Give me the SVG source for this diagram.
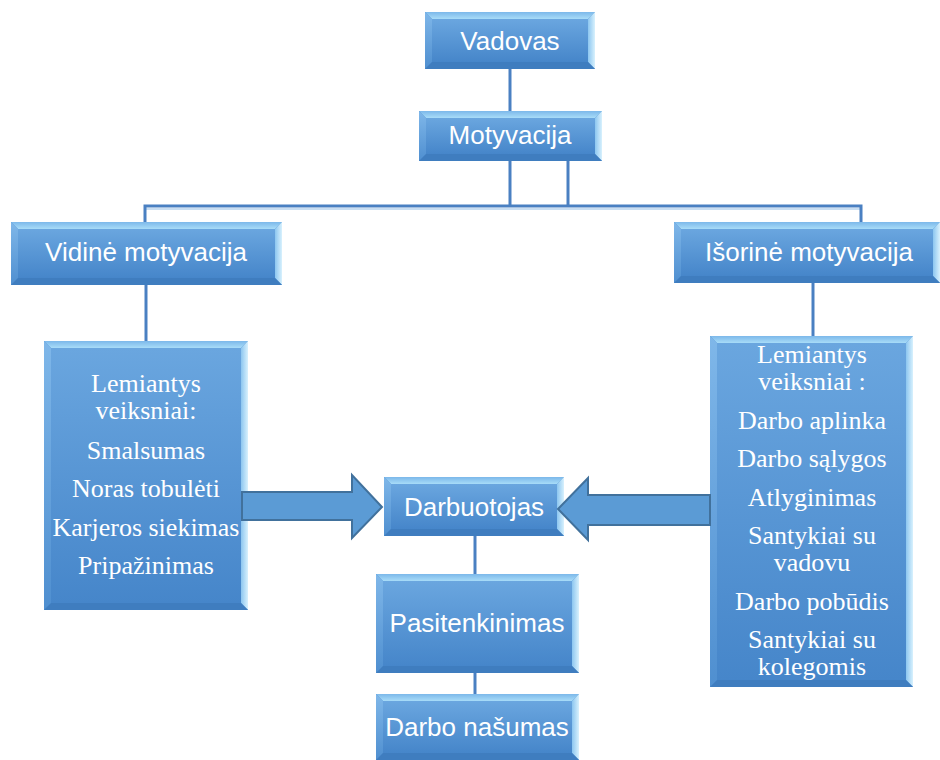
<svg xmlns="http://www.w3.org/2000/svg" width="940" height="760" viewBox="0 0 940 760">
  <defs>
    <linearGradient id="faceGrad" x1="0" y1="0" x2="0" y2="1">
      <stop offset="0" stop-color="#6aa6df"/>
      <stop offset="1" stop-color="#4686ca"/>
    </linearGradient>
    <linearGradient id="topGrad" x1="0" y1="0" x2="0" y2="1">
      <stop offset="0" stop-color="#7cb8ea"/>
      <stop offset="1" stop-color="#a8dcf8"/>
    </linearGradient>
    <linearGradient id="sideGrad" x1="0" y1="0" x2="0" y2="1">
      <stop offset="0" stop-color="#7fb7e9"/>
      <stop offset="1" stop-color="#4f8fd0"/>
    </linearGradient>
    <linearGradient id="rightGrad" x1="0" y1="0" x2="1" y2="0">
      <stop offset="0" stop-color="#8cc6f0"/>
      <stop offset="1" stop-color="#d8f1fd"/>
    </linearGradient>
    <style>
      .base { fill: #4f8fd0; }
      .bv-top { fill: url(#topGrad); }
      .bv-left { fill: url(#sideGrad); }
      .bv-right { fill: url(#rightGrad); }
      .bv-bottom { fill: #3f7dbf; }
      .face { fill: url(#faceGrad); }
      .lbl { font-family: "Liberation Sans", Arial, sans-serif; font-size: 26px; fill: #ffffff; text-anchor: middle; }
      .lst { font-family: "Liberation Serif", "Times New Roman", serif; font-size: 26px; fill: #ffffff; text-anchor: middle; }
      .wire { stroke: #4a80c2; stroke-width: 3; fill: none; }
      .wire-shade { stroke: #c9def2; stroke-width: 2; fill: none; }
      .block { fill: #5b9bd5; stroke: #41719c; stroke-width: 2; stroke-linejoin: miter; }
    </style>
  </defs>

  <!-- Vadovas -->
  <g id="vadovas">
    <rect class="base" x="425" y="12" width="170" height="57"/>
    <polygon class="bv-top" points="425,12 595,12 588,19 432,19"/>
    <polygon class="bv-left" points="425,12 432,19 432,62 425,69"/>
    <polygon class="bv-right" points="595,12 595,69 588,62 588,19"/>
    <polygon class="bv-bottom" points="425,69 432,62 588,62 595,69"/>
    <rect class="face" x="432" y="19" width="156" height="43"/>
    <text class="lbl" x="510" y="50">Vadovas</text>
  </g>

  <!-- Motyvacija -->
  <g id="motyvacija">
    <rect class="base" x="419" y="111" width="183" height="50"/>
    <polygon class="bv-top" points="419,111 602,111 595,118 426,118"/>
    <polygon class="bv-left" points="419,111 426,118 426,154 419,161"/>
    <polygon class="bv-right" points="602,111 602,161 595,154 595,118"/>
    <polygon class="bv-bottom" points="419,161 426,154 595,154 602,161"/>
    <rect class="face" x="426" y="118" width="169" height="36"/>
    <text class="lbl" x="510" y="144">Motyvacija</text>
  </g>

  <!-- Vidinė motyvacija -->
  <g id="vidine">
    <rect class="base" x="11" y="222" width="271" height="63"/>
    <polygon class="bv-top" points="11,222 282,222 275,229 18,229"/>
    <polygon class="bv-left" points="11,222 18,229 18,278 11,285"/>
    <polygon class="bv-right" points="282,222 282,285 275,278 275,229"/>
    <polygon class="bv-bottom" points="11,285 18,278 275,278 282,285"/>
    <rect class="face" x="18" y="229" width="257" height="49"/>
    <text class="lbl" x="146" y="261">Vidinė motyvacija</text>
  </g>

  <!-- Išorinė motyvacija -->
  <g id="isorine">
    <rect class="base" x="674" y="222" width="266" height="61"/>
    <polygon class="bv-top" points="674,222 940,222 933,229 681,229"/>
    <polygon class="bv-left" points="674,222 681,229 681,276 674,283"/>
    <polygon class="bv-right" points="940,222 940,283 933,276 933,229"/>
    <polygon class="bv-bottom" points="674,283 681,276 933,276 940,283"/>
    <rect class="face" x="681" y="229" width="252" height="47"/>
    <text class="lbl" x="809" y="261">Išorinė motyvacija</text>
  </g>

  <!-- Internal factors -->
  <g id="vidiniai-veiksniai">
    <rect class="base" x="44" y="341" width="204" height="269"/>
    <polygon class="bv-top" points="44,341 248,341 241,348 51,348"/>
    <polygon class="bv-left" points="44,341 51,348 51,603 44,610"/>
    <polygon class="bv-right" points="248,341 248,610 241,603 241,348"/>
    <polygon class="bv-bottom" points="44,610 51,603 241,603 248,610"/>
    <rect class="face" x="51" y="348" width="190" height="255"/>
    <text class="lst" x="146" y="392">Lemiantys</text>
    <text class="lst" x="146" y="419">veiksniai:</text>
    <text class="lst" x="146" y="459">Smalsumas</text>
    <text class="lst" x="146" y="497">Noras tobulėti</text>
    <text class="lst" x="146" y="536">Karjeros siekimas</text>
    <text class="lst" x="146" y="574">Pripažinimas</text>
  </g>

  <!-- External factors -->
  <g id="isoriniai-veiksniai">
    <rect class="base" x="710" y="336" width="203" height="351"/>
    <polygon class="bv-top" points="710,336 913,336 906,343 717,343"/>
    <polygon class="bv-left" points="710,336 717,343 717,680 710,687"/>
    <polygon class="bv-right" points="913,336 913,687 906,680 906,343"/>
    <polygon class="bv-bottom" points="710,687 717,680 906,680 913,687"/>
    <rect class="face" x="717" y="343" width="189" height="337"/>
    <text class="lst" x="812" y="363">Lemiantys</text>
    <text class="lst" x="812" y="390">veiksniai :</text>
    <text class="lst" x="812" y="429">Darbo aplinka</text>
    <text class="lst" x="812" y="467">Darbo sąlygos</text>
    <text class="lst" x="812" y="506">Atlyginimas</text>
    <text class="lst" x="812" y="544">Santykiai su</text>
    <text class="lst" x="812" y="571">vadovu</text>
    <text class="lst" x="812" y="610">Darbo pobūdis</text>
    <text class="lst" x="812" y="648">Santykiai su</text>
    <text class="lst" x="812" y="675">kolegomis</text>
  </g>

  <!-- Darbuotojas -->
  <g id="darbuotojas">
    <rect class="base" x="384" y="477" width="180" height="59"/>
    <polygon class="bv-top" points="384,477 564,477 557,484 391,484"/>
    <polygon class="bv-left" points="384,477 391,484 391,529 384,536"/>
    <polygon class="bv-right" points="564,477 564,536 557,529 557,484"/>
    <polygon class="bv-bottom" points="384,536 391,529 557,529 564,536"/>
    <rect class="face" x="391" y="484" width="166" height="45"/>
    <text class="lbl" x="474" y="516">Darbuotojas</text>
  </g>

  <!-- Pasitenkinimas -->
  <g id="pasitenkinimas">
    <rect class="base" x="376" y="574" width="203" height="99"/>
    <polygon class="bv-top" points="376,574 579,574 572,581 383,581"/>
    <polygon class="bv-left" points="376,574 383,581 383,666 376,673"/>
    <polygon class="bv-right" points="579,574 579,673 572,666 572,581"/>
    <polygon class="bv-bottom" points="376,673 383,666 572,666 579,673"/>
    <rect class="face" x="383" y="581" width="189" height="85"/>
    <text class="lbl" x="477" y="632">Pasitenkinimas</text>
  </g>

  <!-- Darbo našumas -->
  <g id="darbo-nasumas">
    <rect class="base" x="376" y="694" width="203" height="66"/>
    <polygon class="bv-top" points="376,694 579,694 572,701 383,701"/>
    <polygon class="bv-left" points="376,694 383,701 383,753 376,760"/>
    <polygon class="bv-right" points="579,694 579,760 572,753 572,701"/>
    <polygon class="bv-bottom" points="376,760 383,753 572,753 579,760"/>
    <rect class="face" x="383" y="701" width="189" height="52"/>
    <text class="lbl" x="477" y="736">Darbo našumas</text>
  </g>

  <!-- Connectors: tree lines and block arrows -->
  <g id="connectors">
    <line class="wire-shade" x1="145" y1="209" x2="861" y2="209"/>
    <path class="wire" d="M510,69 V111"/>
    <path class="wire" d="M510,161 V206"/>
    <path class="wire" d="M568,161 V206"/>
    <path class="wire" d="M145,222 V206 H861 V222"/>
    <path class="wire" d="M146,285 V341"/>
    <path class="wire" d="M813,283 V336"/>
    <path class="wire" d="M475,536 V574"/>
    <path class="wire" d="M475,673 V694"/>
    <polygon class="block" points="242,492 352,492 352,475 382,507 352,538 352,520 242,520"/>
    <polygon class="block" points="710,495 588,495 588,478 558,509 588,540 588,525 710,525"/>
  </g>
</svg>
